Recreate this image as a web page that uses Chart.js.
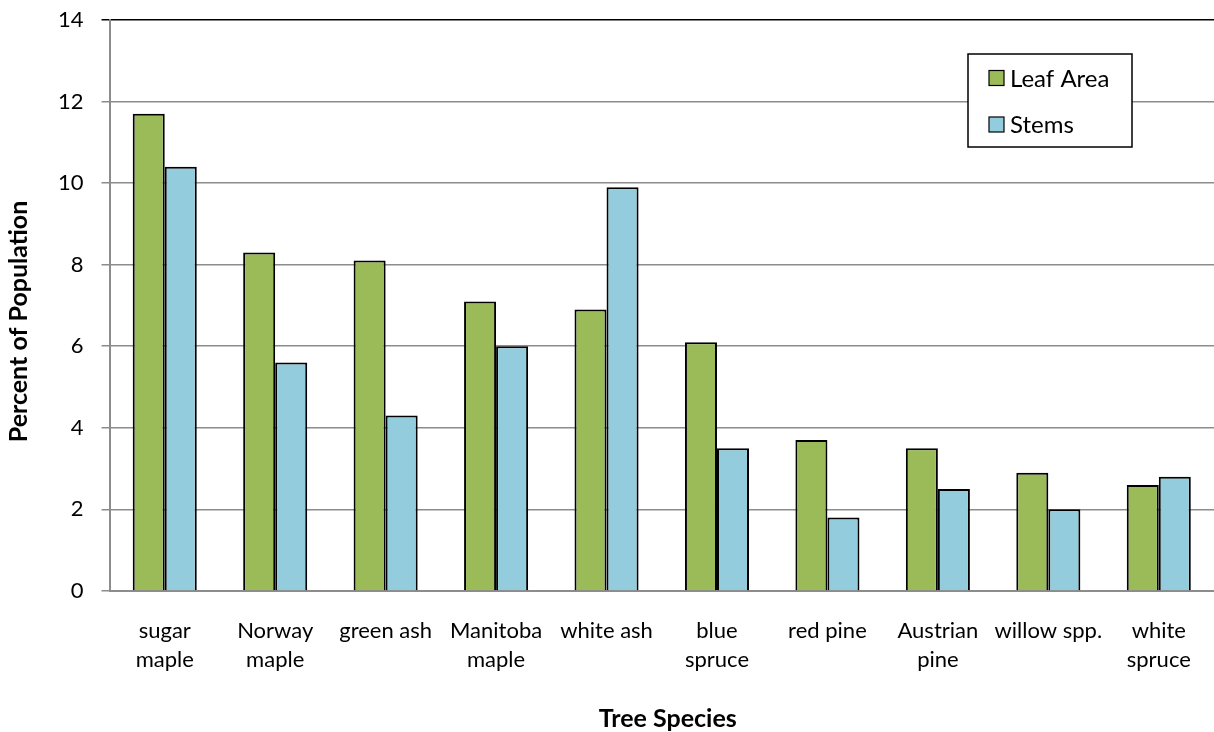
<!DOCTYPE html>
<html lang="en">
<head>
  <meta charset="UTF-8" />
  <title>Tree Species</title>
  <script src="https://cdn.jsdelivr.net/npm/chart.js"></script>
  <style>
    body { margin: 0; background: #fff; }
    .chart-box { width: 1214px; height: 732px; }
  </style>
</head>
<body>
  <div class="chart-box">
    <canvas id="speciesChart"></canvas>
  </div>

<script>
  const species = [
    ['sugar', 'maple'], ['Norway', 'maple'], 'green ash', ['Manitoba', 'maple'], 'white ash',
    ['blue', 'spruce'], 'red pine', ['Austrian', 'pine'], 'willow spp.', ['white', 'spruce']
  ];
  const leafArea = [11.7, 8.3, 8.1, 7.1, 6.9, 6.1, 3.7, 3.5, 2.9, 2.6];
  const stems = [10.4, 5.6, 4.3, 6.0, 9.9, 3.5, 1.8, 2.5, 2.0, 2.8];
  const xTitle = 'Tree Species';
  const yTitle = 'Percent of Population';

  const FONT = 'Lato, "Open Sans", sans-serif';
  const GRID = '#8c8c8c';

  // legend box inside the plot + axis titles placed like the original
  const extras = {
    id: 'extras',
    afterDraw(chart) {
      const ctx = chart.ctx;
      const area = chart.chartArea;
      ctx.save();

      ctx.fillStyle = '#000';
      ctx.font = 'bold 25px ' + FONT;
      ctx.textAlign = 'center';
      ctx.textBaseline = 'middle';
      ctx.fillText(xTitle, (area.left + area.right) / 2 + 6, chart.height - 13);
      ctx.translate(19, (area.top + area.bottom) / 2 + 16);
      ctx.rotate(-Math.PI / 2);
      ctx.fillText(yTitle, 0, 0);
      ctx.setTransform(1, 0, 0, 1, 0, 0);

      const x = 968, y = 54, w = 164, h = 93;
      ctx.textAlign = 'left';
      ctx.fillStyle = '#fff';
      ctx.fillRect(x, y, w, h);
      ctx.strokeStyle = '#000';
      ctx.lineWidth = 1.5;
      ctx.strokeRect(x, y, w, h);
      ctx.font = '24px ' + FONT;
      chart.data.datasets.forEach((ds, i) => {
        const cy = y + 24 + i * 46.5;
        ctx.fillStyle = ds.backgroundColor;
        ctx.fillRect(x + 21, cy - 7.5, 15, 15);
        ctx.lineWidth = 1.2;
        ctx.strokeRect(x + 21, cy - 7.5, 15, 15);
        ctx.fillStyle = '#000';
        ctx.fillText(ds.label, x + 42, cy + 1);
      });
      ctx.restore();
    }
  };

  new Chart(document.getElementById('speciesChart'), {
    type: 'bar',
    data: {
      labels: species,
      datasets: [
        { label: 'Leaf Area', data: leafArea, backgroundColor: '#9bbb59', borderColor: '#000', borderWidth: 2 },
        { label: 'Stems', data: stems, backgroundColor: '#93cddd', borderColor: '#000', borderWidth: 2 }
      ]
    },
    options: {
      responsive: true,
      maintainAspectRatio: false,
      animation: false,
      datasets: { bar: { barPercentage: 1, categoryPercentage: 0.58 } },
      layout: { padding: { top: 20, right: 0, left: 40, bottom: 41 } },
      plugins: {
        legend: { display: false },
        tooltip: { enabled: false }
      },
      scales: {
        x: {
          grid: { display: false },
          border: { display: true, color: GRID, width: 2 },
          ticks: { color: '#000', font: { family: FONT, size: 22, lineHeight: 1.32 }, padding: 17, maxRotation: 0, autoSkip: false }
        },
        y: {
          min: 0,
          max: 14,
          afterFit: s => { s.paddingTop = 0; s.paddingBottom = 0; },
          ticks: { stepSize: 2, color: '#000', font: { family: FONT, size: 22 }, padding: 18 },
          grid: { color: ctx => ctx.tick && ctx.tick.value === 14 ? '#000' : GRID, lineWidth: 1.5, tickLength: 8 },
          border: { display: true, color: GRID, width: 2 }
        }
      }
    },
    plugins: [extras]
  });
</script>
</body>
</html>
